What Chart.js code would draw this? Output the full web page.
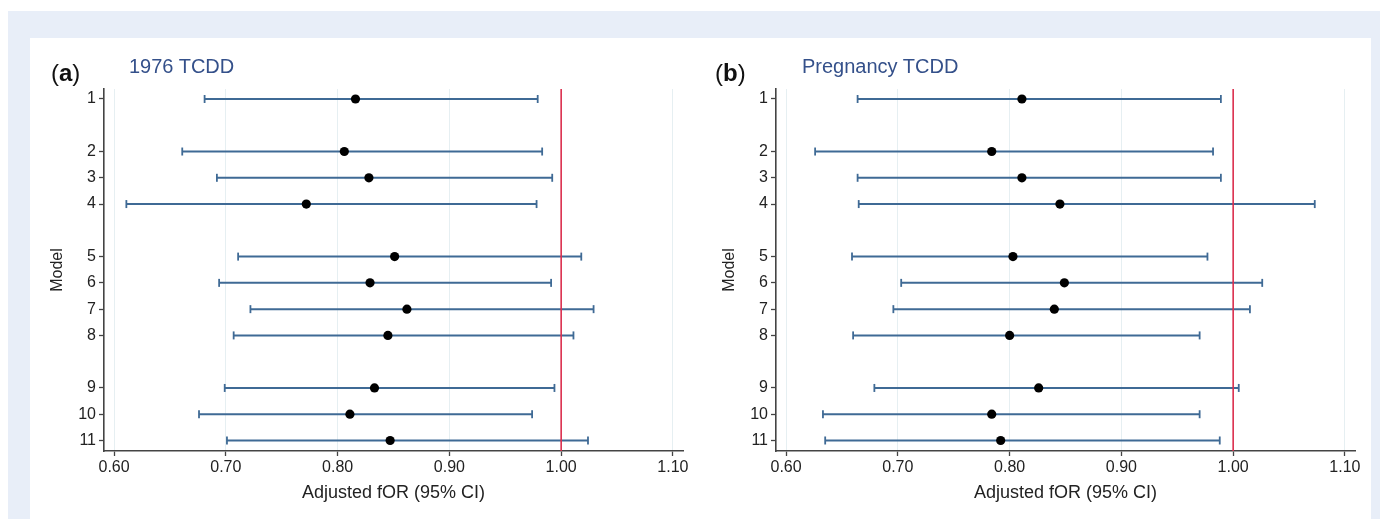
<!DOCTYPE html>
<html>
<head>
<meta charset="utf-8">
<script src="https://cdn.jsdelivr.net/npm/chart.js@4/dist/chart.umd.min.js"></script>
<style>
  html, body { margin: 0; padding: 0; background: #ffffff; width: 1380px; height: 519px; overflow: hidden; font-family: "Liberation Sans", Arial, sans-serif; }
  #band { position: absolute; left: 8px; top: 11px; width: 1372px; height: 508px; background: #e8eef8; }
  #panel { position: absolute; left: 30px; top: 38px; width: 1341px; height: 481px; background: #ffffff; }
  canvas { position: absolute; top: 38px; }
  .lab { position: absolute; line-height: 1; white-space: nowrap; color: #111; }
  .ttl { position: absolute; line-height: 1; white-space: nowrap; color: #34508a; font-size: 20px; }
</style>
</head>
<body>
<div id="band"></div>
<div id="panel"></div>
<canvas id="chartA" width="670" height="481" style="left:30px"></canvas>
<canvas id="chartB" width="670" height="481" style="left:702px"></canvas>
<div class="lab" style="left:51px;top:61px;font-size:24px">(<b>a</b>)</div>
<div class="ttl" style="left:129px;top:56px">1976 TCDD</div>
<div class="lab" style="left:715px;top:61px;font-size:24px">(<b>b</b>)</div>
<div class="ttl" style="left:802px;top:56px">Pregnancy TCDD</div>
<script>
// ---- data ----
const models = ['1','2','3','4','5','6','7','8','9','10','11'];
// row slot of each model on the Model axis (gaps between groups)
const modelSlot = [1, 3, 4, 5, 7, 8, 9, 10, 12, 13, 14];

const a_est   = [0.816, 0.806, 0.828, 0.772, 0.851, 0.829, 0.862, 0.845, 0.833, 0.811, 0.847];
const a_lower = [0.681, 0.661, 0.692, 0.611, 0.711, 0.694, 0.722, 0.707, 0.699, 0.676, 0.701];
const a_upper = [0.979, 0.983, 0.992, 0.978, 1.018, 0.991, 1.029, 1.011, 0.994, 0.974, 1.024];

const b_est   = [0.811, 0.784, 0.811, 0.845, 0.803, 0.849, 0.840, 0.800, 0.826, 0.784, 0.792];
const b_lower = [0.664, 0.626, 0.664, 0.665, 0.659, 0.703, 0.696, 0.660, 0.679, 0.633, 0.635];
const b_upper = [0.989, 0.982, 0.989, 1.073, 0.977, 1.026, 1.015, 0.970, 1.005, 0.970, 0.988];

const xTickValues = [0.60, 0.70, 0.80, 0.90, 1.00, 1.10];
const refValue = 1.00;
const xTitle = 'Adjusted fOR (95% CI)';
const yTitle = 'Model';

// ---- styling ----
const FONT = '"Liberation Sans", Arial, sans-serif';
const CI_COLOR = '#3f6a95';
const REF_COLOR = '#dc2f4e';
const AXIS_COLOR = '#444444';
const GRID_COLOR = '#e6eff2';
const Y_MIN = 0.62, Y_MAX = 14.4;
const X_MIN = 0.591, X_MAX = 1.109;

function buildChart(id, est, lower, upper) {
  const datasets = [];
  datasets.push({
    label: 'estimate',
    data: est.map((v, i) => ({ x: v, y: modelSlot[i] })),
    pointRadius: 4.6,
    pointHoverRadius: 4.6,
    pointBackgroundColor: '#000000',
    pointBorderColor: '#000000',
    pointBorderWidth: 0,
    showLine: false
  });
  datasets.push({
    label: 'ref',
    data: [{ x: refValue, y: Y_MIN }, { x: refValue, y: Y_MAX }],
    showLine: true,
    borderColor: REF_COLOR,
    borderWidth: 1.6,
    pointRadius: 0,
    clip: false
  });
  models.forEach((m, i) => {
    datasets.push({
      label: 'CI ' + m,
      data: [{ x: lower[i], y: modelSlot[i] }, { x: upper[i], y: modelSlot[i] }],
      showLine: true,
      borderColor: CI_COLOR,
      borderWidth: 2,
      pointStyle: 'line',
      rotation: 90,
      pointRadius: 4,
      pointHoverRadius: 4,
      pointBorderColor: CI_COLOR,
      pointBorderWidth: 1.8
    });
  });

  return new Chart(document.getElementById(id), {
    type: 'scatter',
    data: { datasets },
    options: {
      responsive: false,
      animation: false,
      devicePixelRatio: 1,
      events: [],
      layout: { padding: { top: 51, right: 17, bottom: 0, left: 0 } },
      plugins: { legend: { display: false }, tooltip: { enabled: false } },
      scales: {
        x: {
          type: 'linear',
          min: X_MIN,
          max: X_MAX,
          afterBuildTicks: s => { s.ticks = xTickValues.map(v => ({ value: v })); },
          afterFit: s => { s.height = 68; },
          ticks: {
            color: '#222',
            font: { family: FONT, size: 16 },
            padding: 2,
            maxRotation: 0,
            callback: v => Number(v).toFixed(2)
          },
          grid: { color: GRID_COLOR, lineWidth: 1, tickColor: AXIS_COLOR, tickLength: 5, tickWidth: 1.3 },
          border: { color: AXIS_COLOR, width: 1.6 },
          title: { display: true, text: xTitle, color: '#222', font: { family: FONT, size: 18 }, padding: { top: 0, bottom: 15 } }
        },
        y: {
          type: 'linear',
          reverse: true,
          min: Y_MIN,
          max: Y_MAX,
          afterBuildTicks: s => { s.ticks = modelSlot.map(v => ({ value: v })); },
          afterFit: s => { s.width = 74; },
          ticks: {
            color: '#222',
            font: { family: FONT, size: 16 },
            padding: 3,
            callback: v => { const k = modelSlot.indexOf(v); return k >= 0 ? models[k] : ''; }
          },
          grid: { drawOnChartArea: false, tickColor: AXIS_COLOR, tickLength: 5, tickWidth: 1.3 },
          border: { color: AXIS_COLOR, width: 1.6 },
          title: { display: true, text: yTitle, color: '#222', font: { family: FONT, size: 16 }, padding: { top: 18, bottom: 0 } }
        }
      }
    }
  });
}

buildChart('chartA', a_est, a_lower, a_upper);
buildChart('chartB', b_est, b_lower, b_upper);
</script>
</body>
</html>
